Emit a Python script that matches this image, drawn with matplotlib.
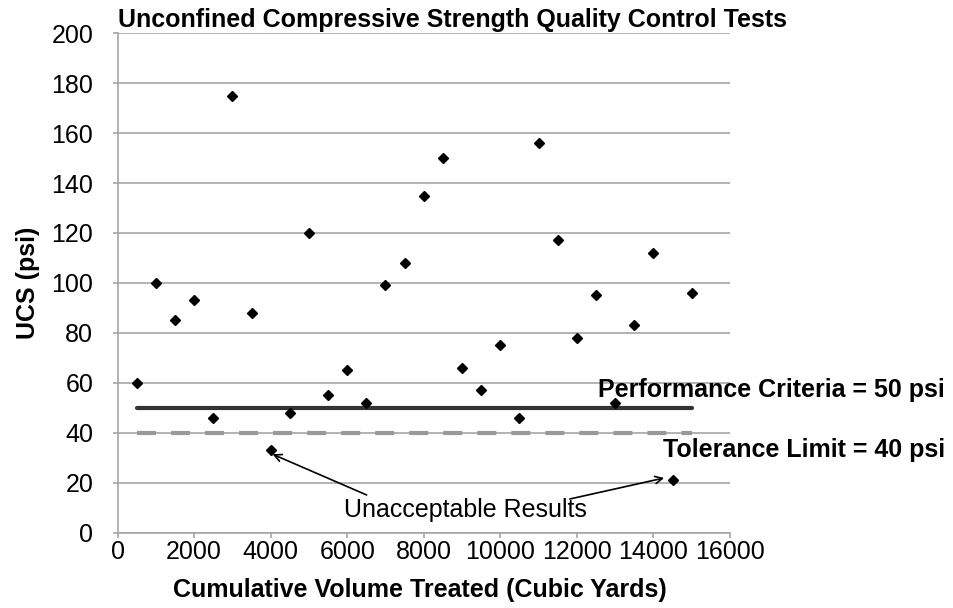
import matplotlib
matplotlib.use("Agg")
import matplotlib.pyplot as plt

plt.rcParams['font.family'] = ['Liberation Sans', 'DejaVu Sans']
plt.rcParams['lines.scale_dashes'] = False

# Cumulative volume treated (cubic yards) and measured UCS (psi)
volume = [500, 1000, 1500, 2000, 2500, 3000, 3500, 4000, 4500, 5000,
          5500, 6000, 6500, 7000, 7500, 8000, 8500, 9000, 9500, 10000,
          10500, 11000, 11500, 12000, 12500, 13000, 13500, 14000, 14500, 15000]
ucs = [60, 100, 85, 93, 46, 175, 88, 33, 48, 120,
       55, 65, 52, 99, 108, 135, 150, 66, 57, 75,
       46, 156, 117, 78, 95, 52, 83, 112, 21, 96]

criteria_x = [500, 15000]
performance_criteria = 50
tolerance_limit = 40

x_ticks = [0, 2000, 4000, 6000, 8000, 10000, 12000, 14000, 16000]
y_ticks = [0, 20, 40, 60, 80, 100, 120, 140, 160, 180, 200]

FS = 18

fig = plt.figure(figsize=(9.54, 6.08), dpi=100)
ax = fig.add_axes([0.1232, 0.1234, 0.642, 0.8223])

grid_color = '#a6a6a6'
ax.set_xlim(0, 16000)
ax.set_ylim(0, 200)
ax.set_xticks(x_ticks)
ax.set_yticks(y_ticks)
ax.yaxis.grid(True, color=grid_color, linewidth=1.2)
ax.set_axisbelow(True)
for s in ['top', 'right']:
    ax.spines[s].set_visible(False)
for s in ['left', 'bottom']:
    ax.spines[s].set_color(grid_color)
    ax.spines[s].set_linewidth(1.2)
ax.tick_params(axis='both', colors=grid_color, length=3.5, width=1.2,
               labelcolor='black', labelsize=FS)
ax.tick_params(axis='x', pad=1.5)
ax.tick_params(axis='y', pad=14)

# Reference lines (dash lengths in points)
ax.plot(criteria_x, [performance_criteria] * 2, color='#333333',
        linewidth=3.0, solid_capstyle='round', zorder=2)
ax.plot(criteria_x, [tolerance_limit] * 2, color='#999999',
        linewidth=3.0, dashes=(13.7, 10.8), dash_capstyle='butt', zorder=2)

# Test results
ax.plot(volume, ucs, linestyle='none', marker='D', markersize=5.6,
        color='black', zorder=3)

ax.set_xlabel('Cumulative Volume Treated (Cubic Yards)', fontsize=FS,
              fontweight='bold')
ax.xaxis.set_label_coords(0.494, -0.114)
ax.xaxis.label.set_va('center')
ax.set_ylabel('UCS (psi)', fontsize=FS, fontweight='bold')
ax.yaxis.set_label_coords(-0.146, 0.5)
ax.yaxis.label.set_va('center')
fig.text(0.1237, 0.967, 'Unconfined Compressive Strength Quality Control Tests',
         fontsize=FS, fontweight='bold', ha='left', va='center')

fig.text(0.9906, 0.347, 'Performance Criteria = 50 psi', fontsize=FS,
         fontweight='bold', ha='right', va='baseline')
fig.text(0.9906, 0.249, 'Tolerance Limit = 40 psi', fontsize=FS,
         fontweight='bold', ha='right', va='baseline')

ax.text(9100, 6.3, 'Unacceptable Results', fontsize=FS, ha='center',
        va='baseline', zorder=4)
arrow = dict(arrowstyle='->', color='black', linewidth=1.2,
             shrinkA=0, shrinkB=0, mutation_scale=13)
ax.annotate('', xy=(4050, 31.5), xytext=(6508, 15.2), arrowprops=arrow)
ax.annotate('', xy=(14280, 22.0), xytext=(11818, 13.6), arrowprops=arrow)

fig.savefig('out.png', dpi=100)
